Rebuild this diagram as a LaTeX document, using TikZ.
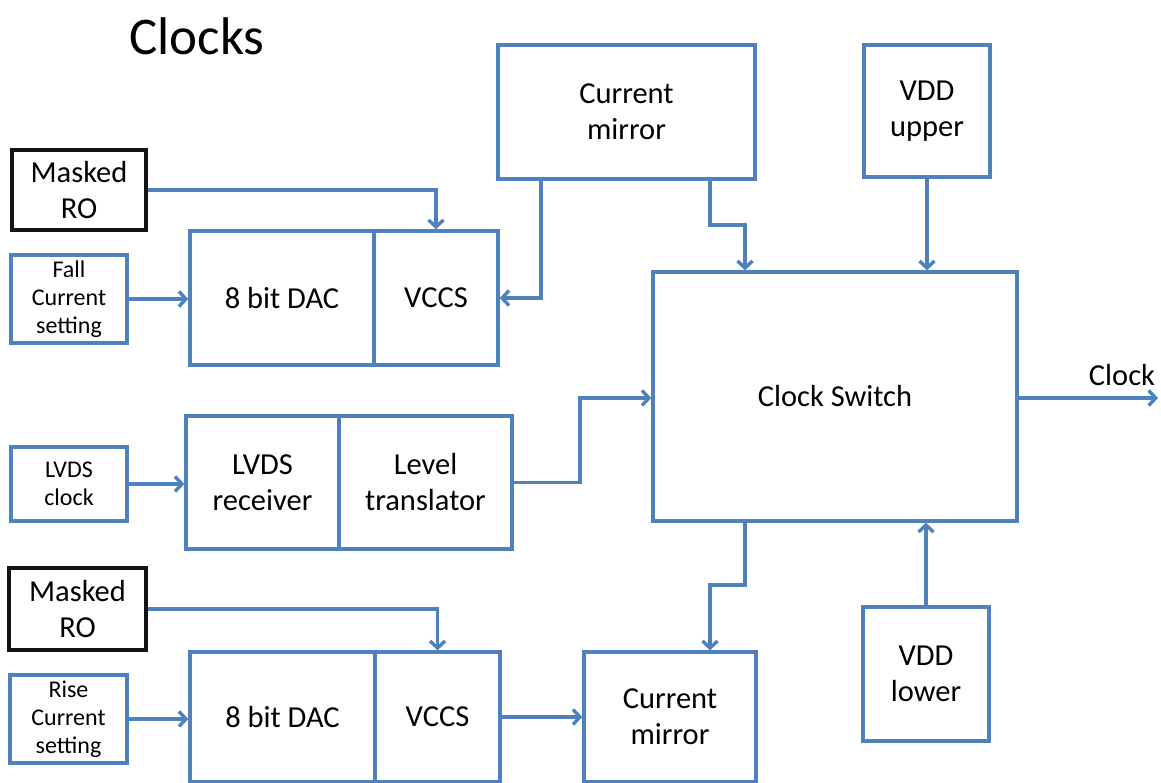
\documentclass[tikz,border=0pt]{standalone}
\usepackage{fontspec}
\setmainfont{Carlito}
\usetikzlibrary{arrows.meta}
\definecolor{ob}{RGB}{79,129,189}
\definecolor{bk}{RGB}{20,20,20}
\tikzset{
  blk/.style={draw=ob, line width=3.4pt, fill=white, inner sep=0pt, align=center, font=\fontsize{30.5}{36}\selectfont},
  sml/.style={blk, font=\fontsize{24}{28}\selectfont},
  blkk/.style={blk, draw=bk},
  arr/.style={draw=ob, line width=3.4pt, -{Straight Barb[length=7pt,width=15pt]}},
}
\begin{document}
\begin{tikzpicture}[x=1pt,y=-1pt]
\useasboundingbox (0,0) rectangle (1161,783);
\node[font=\fontsize{53}{60}\selectfont] (title) at (197,36) {Clocks};
% top branch
\node[blkk, minimum width=134, minimum height=80] (mro1) at (79,190) {Masked\\RO};
\node[sml, minimum width=116, minimum height=88] (fall) at (69,299) {Fall\\Current\\setting};
\node[blk, minimum width=184, minimum height=134] (dac1) at (282,298) {8 bit DAC};
\node[blk, minimum width=124, minimum height=134] (vccs1) at (436,298) {VCCS};
\node[blk, minimum width=257, minimum height=134] (cm1) at (626.5,112) {Current\\mirror};
\node[blk, minimum width=126, minimum height=132] (vddu) at (927,111) {VDD\\upper};
\node[blk, minimum width=364, minimum height=249] (cs) at (835,396.5) {Clock Switch};
% middle
\node[sml, minimum width=116, minimum height=74] (lvdsclk) at (69,484) {LVDS\\clock};
\node[blk, minimum width=153, minimum height=133] (lvdsrx) at (262.5,482.5) {LVDS\\receiver};
\node[blk, minimum width=173, minimum height=133] (lt) at (425.5,482.5) {Level\\translator};
% bottom branch
\node[blkk, minimum width=137, minimum height=82] (mro2) at (77.5,609) {Masked\\RO};
\node[sml, minimum width=117, minimum height=88] (rise) at (68.5,719) {Rise\\Current\\setting};
\node[blk, minimum width=185, minimum height=130] (dac2) at (282.5,717) {8 bit DAC};
\node[blk, minimum width=125, minimum height=130] (vccs2) at (437.5,717) {VCCS};
\node[blk, minimum width=172, minimum height=130] (cm2) at (670,717) {Current\\mirror};
\node[blk, minimum width=126, minimum height=134] (vddl) at (926,674) {VDD\\lower};
\node[font=\fontsize{30.5}{36}\selectfont] (clk) at (1122,375) {Clock};
\coordinate (clkend) at (1158,398);
% connectors
\draw[arr] (mro1.east) -| (vccs1.north);
\draw[arr] (fall.east) -- (dac1.west |- fall.east);
\draw[arr] (cm1.south -| 541,0) |- (vccs1.east);
\draw[arr] (cm1.south -| 710,0) -- (710,225) -- (745,225) -- (cs.north -| 745,0);
\draw[arr] (vddu.south) -- (cs.north -| vddu.south);
\draw[arr] (lvdsclk.east) -- (lvdsrx.west |- lvdsclk.east);
\draw[arr] (lt.east) -- (lt.east -| 580,0) |- (cs.west |- 0,398);
\draw[arr] (cs.east |- clkend) -- (clkend);
\draw[arr] (cs.south -| 745,0) -- (745,585) -- (710,585) -- (cm2.north -| 710,0);
\draw[arr] (vddl.north) -- (cs.south -| vddl.north);
\draw[arr] (mro2.east) -| (vccs2.north);
\draw[arr] (rise.east) -- (dac2.west |- rise.east);
\draw[arr] (vccs2.east) -- (cm2.west);
\end{tikzpicture}
\end{document}
